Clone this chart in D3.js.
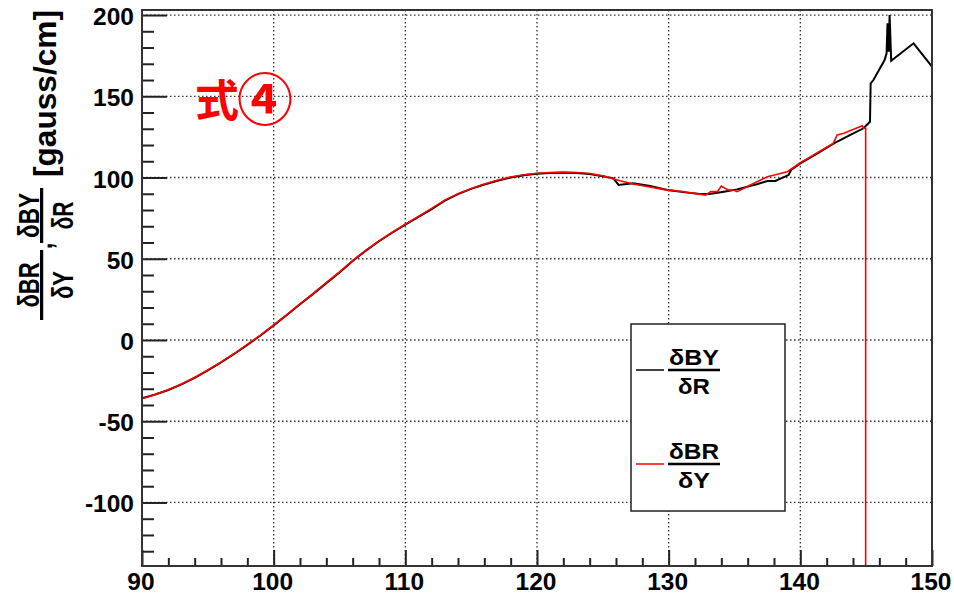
<!DOCTYPE html>
<html>
<head>
<meta charset="utf-8">
<script src="https://cdn.jsdelivr.net/npm/d3@7"></script>
<style>
  body { margin: 0; background: #fff; }
  text { font-family: "Liberation Sans", Arial, sans-serif; font-weight: bold; }
</style>
</head>
<body>
<div id="chart"></div>
<script>
// dBY/dR (black) and dBR/dY (red) against R
const rBlack = [90, 91, 92, 93, 94, 95, 96, 97, 98, 99, 100, 101, 102, 103, 104, 105, 106, 107, 108, 109,
  110, 111, 112, 113, 114, 115, 116, 117, 118, 119, 120, 121, 122, 123, 124, 125, 125.8, 126.2, 127.3, 128.6,
  129.9, 131.4, 132.4, 133.1, 134.2, 135.2, 136.7, 137.5, 138.1, 139.1, 139.3, 140, 141.3, 142.55, 143.8, 144.8,
  145.29, 145.34, 145.55, 146.05, 146.4, 146.55, 146.62, 146.66, 146.72, 146.78, 146.9, 148.6, 150];
const dBYdR = [-35.9, -33.5, -30.8, -27.3, -23.3, -18.7, -13.8, -8.6, -3, 2.8, 9, 15.4, 22, 28.4, 35, 41.6, 48.6, 55, 60.8, 66,
  71, 75.8, 80.6, 85.8, 89.8, 93, 95.7, 98, 100, 101.4, 102.3, 102.8, 103, 102.8, 102.2, 100.8, 99.5, 95.4, 96.4, 94.8,
  92.3, 90.7, 89.9, 89.9, 91.3, 92.7, 95.9, 97.9, 97.9, 101.5, 104.6, 108.7, 114.9, 121, 126.2, 130.3,
  134.3, 158, 160, 167.2, 172.3, 176.4, 195, 178, 178, 200, 171.8, 182.6, 168.2];

const rRed = [90, 91, 92, 93, 94, 95, 96, 97, 98, 99, 100, 101, 102, 103, 104, 105, 106, 107, 108, 109,
  110, 111, 112, 113, 114, 115, 116, 117, 118, 119, 120, 121, 122, 123, 124, 125, 126.3, 127.3, 129.6, 131.1,
  132.8, 133.2, 133.7, 134, 134.5, 134.9, 135.2, 136.2, 137.5, 139, 140, 142.5, 142.8, 143.3, 144.7, 144.8,
  144.96, 144.96];
const dBRdY = [-36.2, -33.6, -30.6, -27.1, -23.1, -18.5, -13.6, -8.4, -2.8, 3, 9.2, 15.6, 22.2, 28.6, 35.3, 41.9, 48.9, 55.2, 61, 66.3,
  71.3, 76.1, 81, 86.1, 90, 93.3, 96, 98.3, 100.3, 101.7, 102.6, 103.1, 103.3, 103.1, 102.5, 101, 98, 96, 92.7, 91.3,
  89.2, 91.3, 91.3, 94.8, 92.3, 92.3, 91.3, 95.4, 100.5, 103.6, 109.1, 121, 126.2, 127.2, 131.9, 130.3,
  130.3, -140];

const xTicks = [90, 100, 110, 120, 130, 140, 150];
const yTicks = [-100, -50, 0, 50, 100, 150, 200];

const width = 954, height = 598;
const plotLeft = 142, plotRight = 932, plotTop = 10, plotBottom = 566;

const svg = d3.select("#chart").append("svg")
  .attr("width", width)
  .attr("height", height);

const x = d3.scaleLinear().domain([90, 150]).range([plotLeft, plotRight]);
const y = d3.scaleLinear().domain([-139.1, 203.1]).range([plotBottom, plotTop]);

svg.append("clipPath").attr("id", "plot")
  .append("rect")
  .attr("x", plotLeft).attr("y", plotTop)
  .attr("width", plotRight - plotLeft).attr("height", plotBottom - plotTop);

// dotted grid on the major ticks
svg.append("g")
  .selectAll("line")
  .data(xTicks.filter(d => d > 90 && d < 150))
  .join("line")
  .attr("x1", d => x(d)).attr("x2", d => x(d))
  .attr("y1", plotTop).attr("y2", plotBottom)
  .attr("stroke", "#333").attr("stroke-width", 1.3)
  .attr("stroke-dasharray", "1.5,2.5");

svg.append("g")
  .selectAll("line")
  .data(yTicks)
  .join("line")
  .attr("x1", plotLeft).attr("x2", plotRight)
  .attr("y1", d => y(d)).attr("y2", d => y(d))
  .attr("stroke", "#333").attr("stroke-width", 1.3)
  .attr("stroke-dasharray", "1.5,2.5");

// axes: ticks point inwards, ROOT style
const xAxis = d3.axisBottom(x)
  .tickValues(d3.range(90, 150.1, 2))
  .tickSize(0)
  .tickFormat("");
const gx = svg.append("g").attr("transform", `translate(0,${plotBottom})`).call(xAxis);
gx.select(".domain").remove();
gx.selectAll(".tick line")
  .attr("y2", d => xTicks.includes(d) ? -16 : -8)
  .attr("stroke", "#222").attr("stroke-width", 2);

const yAxis = d3.axisLeft(y)
  .tickValues(d3.range(-130, 201, 10))
  .tickSize(0)
  .tickFormat("");
const gy = svg.append("g").attr("transform", `translate(${plotLeft},0)`).call(yAxis);
gy.select(".domain").remove();
gy.selectAll(".tick line")
  .attr("x2", d => yTicks.includes(d) ? 25 : 12)
  .attr("stroke", "#222").attr("stroke-width", 2);

// tick labels
svg.append("g")
  .selectAll("text")
  .data(xTicks)
  .join("text")
  .attr("x", d => x(d) - 1)
  .attr("y", 590)
  .attr("text-anchor", "middle")
  .style("font-size", "24.5px")
  .text(d => d);

svg.append("g")
  .selectAll("text")
  .data(yTicks)
  .join("text")
  .attr("x", 134)
  .attr("y", d => y(d) + 10)
  .attr("text-anchor", "end")
  .style("font-size", "24.5px")
  .text(d => d);

// curves
const line = d3.line()
  .x(d => x(d[0]))
  .y(d => y(d[1]));

svg.append("path")
  .datum(d3.zip(rBlack, dBYdR))
  .attr("d", line)
  .attr("clip-path", "url(#plot)")
  .attr("fill", "none")
  .attr("stroke", "#000")
  .attr("stroke-width", 2);

svg.append("path")
  .datum(d3.zip(rRed, dBRdY))
  .attr("d", line)
  .attr("clip-path", "url(#plot)")
  .attr("fill", "none")
  .attr("stroke", "#ff0000")
  .attr("stroke-width", 1.6);

// frame
svg.append("rect")
  .attr("x", plotLeft).attr("y", plotTop)
  .attr("width", plotRight - plotLeft).attr("height", plotBottom - plotTop)
  .attr("fill", "none")
  .attr("stroke", "#333")
  .attr("stroke-width", 2);

// label in red, the circled digit drawn a bit larger like in the picture
const note = svg.append("text")
  .attr("x", 195)
  .attr("y", 117)
  .attr("fill", "#ff0000")
  .style("font-family", "'Noto Sans CJK JP', sans-serif")
  .style("font-weight", "bold");
note.append("tspan").style("font-size", "44px").text("式");
note.append("tspan").attr("dx", -2).attr("dy", 3).style("font-size", "56px").text("④");

// little helper for a stacked fraction, (cx, ny) = centre, numerator baseline
function fraction(g, cx, ny, num, den, numLen, denLen, size, gap, barHalf) {
  g.append("text").attr("x", cx).attr("y", ny)
    .attr("text-anchor", "middle").style("font-size", size + "px")
    .attr("textLength", numLen).attr("lengthAdjust", "spacingAndGlyphs")
    .text(num);
  g.append("line")
    .attr("x1", cx - barHalf).attr("x2", cx + barHalf)
    .attr("y1", ny + gap).attr("y2", ny + gap)
    .attr("stroke", "#000").attr("stroke-width", 2.5);
  g.append("text").attr("x", cx).attr("y", ny + gap + 24)
    .attr("text-anchor", "middle").style("font-size", size + "px")
    .attr("textLength", denLen).attr("lengthAdjust", "spacingAndGlyphs")
    .text(den);
}

// legend
const legend = svg.append("g");
legend.append("rect")
  .attr("x", 631).attr("y", 324)
  .attr("width", 154).attr("height", 187)
  .attr("fill", "#fff")
  .attr("stroke", "#222").attr("stroke-width", 1.5);

const legendItems = [
  { color: "#000", num: "δBY", den: "δR", ly: 370 },
  { color: "#ff0000", num: "δBR", den: "δY", ly: 464 }
];
legendItems.forEach(item => {
  legend.append("line")
    .attr("x1", 636).attr("x2", 664)
    .attr("y1", item.ly).attr("y2", item.ly)
    .attr("stroke", item.color).attr("stroke-width", 1.5);
  fraction(legend, 694, item.ly - 5, item.num, item.den, 50, 32, 22, 5, 26);
});

// y axis title, rotated
const title = svg.append("g").attr("transform", "rotate(-90)");
const fr = title.append("g").attr("transform", "scale(1,1.3)");
fraction(fr, -285, 39 / 1.3, "δBR", "δY", 45, 28, 22, 2, 35);
fraction(fr, -215.5, 39 / 1.3, "δBY", "δR", 45, 28, 22, 2, 27.5);
fr.append("text").attr("x", -246).attr("y", 52 / 1.3)
  .attr("text-anchor", "middle").style("font-size", "22px").text(",");
title.append("text")
  .attr("x", -177).attr("y", 56)
  .attr("textLength", 167).attr("lengthAdjust", "spacingAndGlyphs")
  .style("font-size", "32px")
  .text("[gauss/cm]");
</script>
</body>
</html>
